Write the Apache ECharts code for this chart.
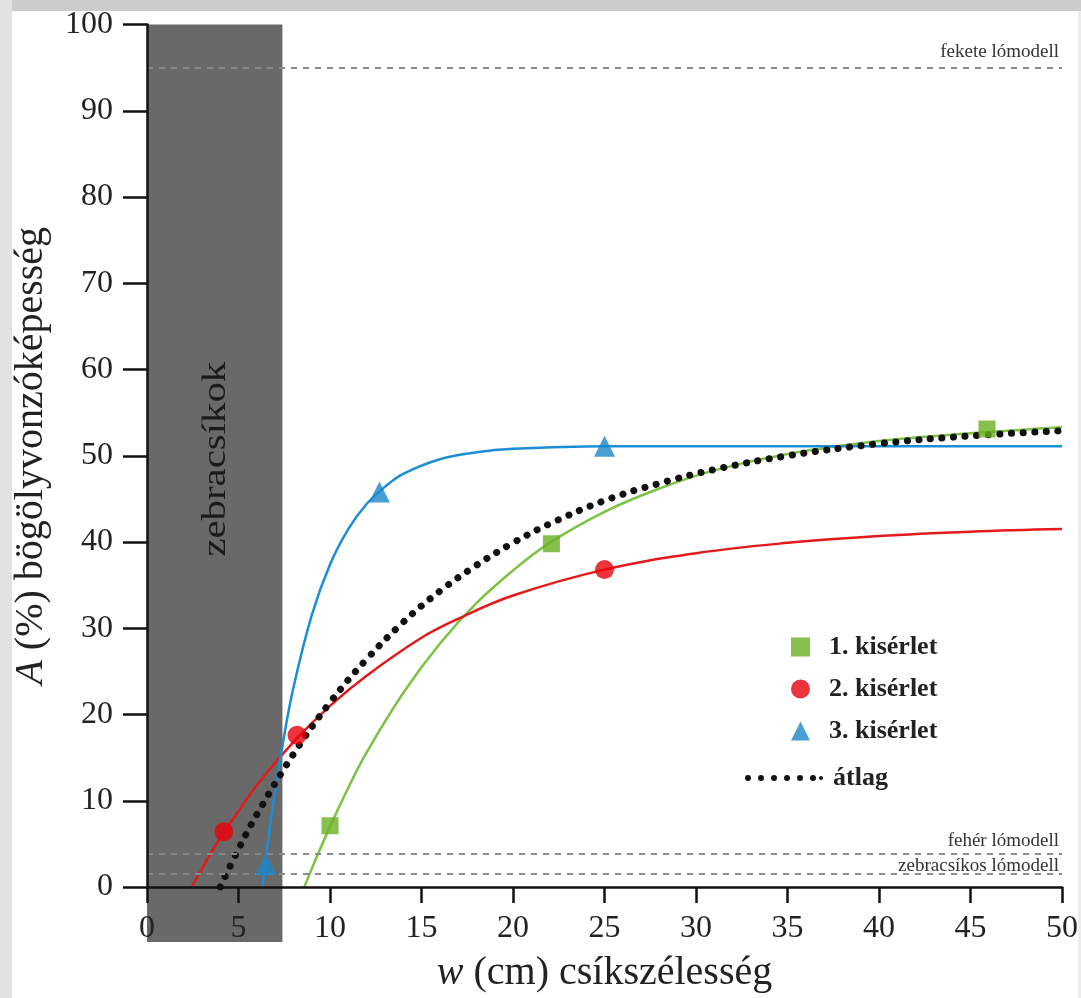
<!DOCTYPE html>
<html>
<head>
<meta charset="utf-8">
<script src="https://cdn.jsdelivr.net/npm/echarts@6/dist/echarts.min.js"></script>
<style>
html,body{margin:0;padding:0;background:#fff;}
#chart{width:1081px;height:998px;}
</style>
</head>
<body>
<div id="chart"></div>
<script>
// ---- data ----
const xTicks = [0, 5, 10, 15, 20, 25, 30, 35, 40, 45, 50];
const yTicks = [0, 10, 20, 30, 40, 50, 60, 70, 80, 90, 100];
const seriesNames = ['1. kisérlet', '2. kisérlet', '3. kisérlet', 'átlag'];

const exp1Points = [[10, 7.1], [22.1, 39.8], [45.9, 53.1]];
const exp2Points = [[4.2, 6.4], [8.2, 17.6], [25.0, 36.8]];
const exp3Points = [[6.5, 2.6], [12.7, 45.8], [25.0, 51.1]];

const exp1Curve = [[8.6,0],[9,2.1],[10,7.0],[11,11.5],[12,15.6],[14,22.5],[16,28.2],[18,32.9],[20,36.7],[22,39.9],[25,43.5],[28,46.2],[31,48.3],[35,50.2],[40,51.7],[45,52.6],[50,53.3]];
const exp2Curve = [[2.45,0],[3,2.1],[4,5.7],[5,8.8],[6,11.8],[8,16.8],[10,21.0],[12,24.5],[15,28.9],[17,31.1],[20,33.8],[25,36.8],[30,38.7],[35,39.9],[40,40.7],[45,41.2],[50,41.5]];
const exp3Curve = [[6.3,0],[6.5,3.5],[7,11.1],[7.5,17.6],[8,23.1],[9,31.5],[10,37.4],[11,41.5],[12,44.4],[13,46.4],[14,47.9],[16,49.6],[18,50.4],[20,50.8],[25,51.1],[30,51.1],[40,51.1],[50,51.1]];
const avgCurve = [[4,0],[5,4.4],[6,8.4],[8,15.4],[10,21.4],[12,26.4],[14,30.7],[16,34.3],[18,37.3],[20,39.9],[22,42.1],[25,44.8],[28,46.8],[31,48.4],[35,50.0],[40,51.4],[45,52.3],[50,52.9]];

const refLineValues = [95, 3.8, 1.5];
const refLineLabels = ['fekete lómodell', 'fehér lómodell', 'zebracsíkos lómodell'];

const bandRange = [0, 7.4];
const bandLabel = 'zebracsíkok';
const bandLabelY = 49.6;

// ---- chart ----
const FONT = '"Liberation Serif", "DejaVu Serif", serif';
const chart = echarts.init(document.getElementById('chart'));

const dotIcon = 'path://M0,3a3,3 0 1,0 6,0a3,3 0 1,0 -6,0z M13,3a3,3 0 1,0 6,0a3,3 0 1,0 -6,0z M26,3a3,3 0 1,0 6,0a3,3 0 1,0 -6,0z M39,3a3,3 0 1,0 6,0a3,3 0 1,0 -6,0z M52,3a3,3 0 1,0 6,0a3,3 0 1,0 -6,0z M65,3a3,3 0 1,0 6,0a3,3 0 1,0 -6,0z M74,3a2,2 0 1,0 4,0a2,2 0 1,0 -4,0z';

const refDist = [6, 4, -1];

const option = {
  animation: false,
  backgroundColor: '#ffffff',
  textStyle: { fontFamily: FONT },
  graphic: [
    { type: 'rect', left: 0, top: 0, shape: { width: 1081, height: 11 }, style: { fill: '#cccccc' }, z: 100 },
    { type: 'rect', left: 0, top: 0, shape: { width: 12, height: 998 }, style: { fill: '#e2e2e2' }, z: 100 },
    { type: 'rect', left: 1078, top: 11, shape: { width: 3, height: 987 }, style: { fill: '#ececec' }, z: 100 }
  ],
  grid: { left: 147, right: 19, top: 24.5, bottom: 104, containLabel: false },
  legend: [
    {
      data: seriesNames.slice(0, 3),
      orient: 'vertical',
      left: 786, top: 629,
      itemWidth: 19, itemHeight: 19,
      itemGap: 16,
      selectedMode: false,
      textStyle: { fontFamily: FONT, fontSize: 26, fontWeight: 'bold', color: '#222', padding: [0, 0, 0, 14] }
    },
    {
      data: [{ name: seriesNames[3], icon: dotIcon }],
      left: 740, top: 760,
      itemWidth: 78, itemHeight: 6,
      selectedMode: false,
      itemStyle: { color: '#111' },
      textStyle: { fontFamily: FONT, fontSize: 26, fontWeight: 'bold', color: '#222', padding: [0, 0, 0, 5] }
    }
  ],
  xAxis: {
    type: 'value', min: 0, max: 50, interval: 5, z: 5,
    name: '{i|w} (cm) csíkszélesség',
    nameLocation: 'middle', nameGap: 66,
    nameTextStyle: {
      fontFamily: FONT, fontSize: 40, color: '#222',
      rich: { i: { fontFamily: FONT, fontSize: 40, fontStyle: 'italic', color: '#222' } }
    },
    axisLine: { show: true, onZero: false, lineStyle: { color: '#111', width: 2.5 } },
    axisTick: { show: true, length: 16, lineStyle: { color: '#111', width: 2.5 } },
    axisLabel: { margin: 26, fontFamily: FONT, fontSize: 32, color: '#222',
      formatter: v => xTicks.includes(v) ? String(v) : '' },
    splitLine: { show: false }
  },
  yAxis: {
    type: 'value', min: 0, max: 100, interval: 10, z: 5,
    name: '{i|A} (%) bögölyvonzóképesség',
    nameLocation: 'middle', nameGap: 96, nameRotate: 90,
    nameTextStyle: {
      fontFamily: FONT, fontSize: 40, color: '#222',
      rich: { i: { fontFamily: FONT, fontSize: 40, fontStyle: 'italic', color: '#222' } }
    },
    axisLine: { show: true, onZero: false, lineStyle: { color: '#111', width: 2.5 } },
    axisTick: { show: true, length: 24, lineStyle: { color: '#111', width: 2.5 } },
    axisLabel: { margin: 34, fontFamily: FONT, fontSize: 32, color: '#222',
      formatter: v => yTicks.includes(v) ? String(v) : '' },
    splitLine: { show: false }
  },
  series: [
    {
      type: 'custom', z: 1, silent: true, clip: false,
      data: [bandRange],
      renderItem: function (params, api) {
        const p0 = api.coord([api.value(0), 100]);
        const p1 = api.coord([api.value(1), 0]);
        const ly = api.coord([0, bandLabelY])[1];
        return {
          type: 'group',
          children: [
            { type: 'rect', shape: { x: p0[0], y: p0[1], width: p1[0] - p0[0], height: p1[1] - p0[1] + 55 },
              style: { fill: '#696969' } },
            { type: 'text', x: (p0[0] + p1[0]) / 2 + 1, y: ly, rotation: Math.PI / 2, scaleX: 1.2,
              style: { text: bandLabel, fontFamily: FONT, fontSize: 34, fill: '#1a1a1a', align: 'center', verticalAlign: 'middle' } }
          ]
        };
      }
    },
    {
      type: 'line', z: 3, silent: true, symbol: 'none', smooth: 0.4,
      data: exp1Curve, lineStyle: { color: '#7dc242', width: 2.5 },
      markLine: {
        silent: true, symbol: 'none',
        lineStyle: { color: '#8a8a8a', type: [6, 6], width: 2 },
        label: { show: true, position: 'insideEndTop', fontFamily: FONT, fontSize: 19, color: '#333' },
        data: refLineValues.map((v, i) => ({ yAxis: v, label: { formatter: refLineLabels[i], distance: [3, refDist[i]] } }))
      }
    },
    { type: 'line', z: 3, silent: true, symbol: 'none', smooth: 0.4, data: exp2Curve, lineStyle: { color: '#e3191b', width: 2.5 } },
    { type: 'line', z: 3, silent: true, symbol: 'none', smooth: 0.4, data: exp3Curve, lineStyle: { color: '#1c8ed6', width: 2.5 } },
    { name: seriesNames[3], type: 'line', z: 4, silent: true, symbol: 'none', smooth: 0.4, data: avgCurve,
      itemStyle: { color: '#111' },
      lineStyle: { color: '#111', width: 7, type: [0.1, 11.5], cap: 'round' } },
    { name: seriesNames[0], type: 'scatter', z: 6, symbol: 'rect', symbolSize: 17, data: exp1Points, itemStyle: { color: '#6ab023' } },
    { name: seriesNames[1], type: 'scatter', z: 6, symbol: 'circle', symbolSize: 19, data: exp2Points, itemStyle: { color: '#e8000b' } },
    { name: seriesNames[2], type: 'scatter', z: 6, symbol: 'triangle', symbolSize: 21, data: exp3Points, itemStyle: { color: '#1b86cc' } }
  ]
};
chart.setOption(option);
</script>
</body>
</html>
